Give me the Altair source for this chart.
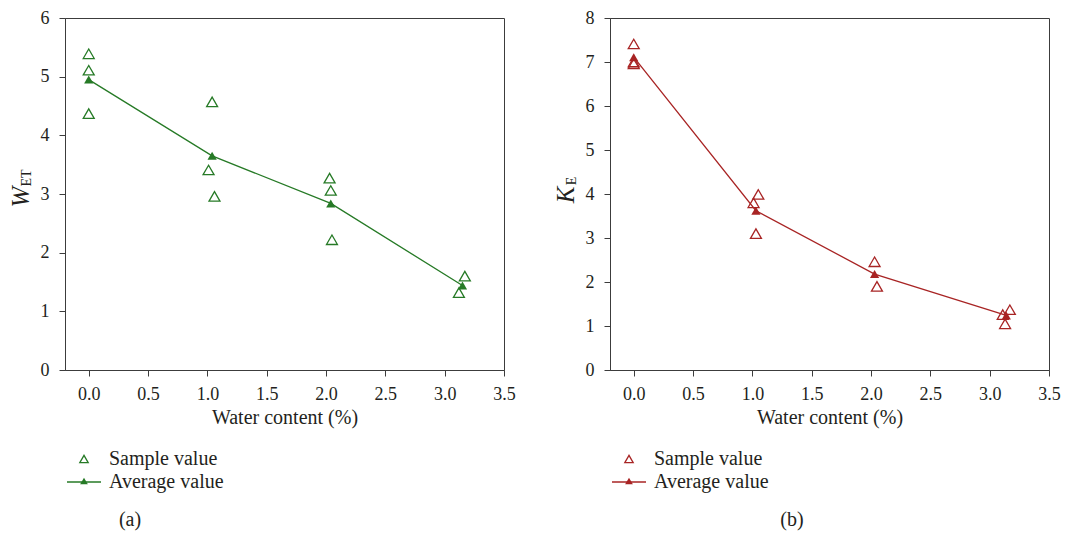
import altair as alt
import pandas as pd

# ---------------- data ----------------
# Panel (a): W_ET
a_sample_x = [0.0, 0.0, 0.0, 1.04, 1.01, 1.06, 2.03, 2.04, 2.05, 3.17, 3.12]
a_sample_y = [5.39, 5.11, 4.37, 4.57, 3.41, 2.96, 3.27, 3.06, 2.22, 1.60, 1.32]
a_avg_x = [0.0, 1.04, 2.04, 3.15]
a_avg_y = [4.95, 3.65, 2.84, 1.44]

# Panel (b): K_E
b_sample_x = [0.0, 0.0, 0.0, 1.05, 1.01, 1.03, 2.03, 2.05, 3.11, 3.17, 3.13]
b_sample_y = [7.41, 7.00, 6.96, 3.99, 3.80, 3.10, 2.46, 1.90, 1.26, 1.37, 1.05]
b_avg_x = [0.0, 1.03, 2.03, 3.14]
b_avg_y = [7.11, 3.62, 2.18, 1.24]

x_ticks = [i * 0.25 for i in range(15)]          # 0 .. 3.5
a_y_ticks = [i * 0.5 for i in range(13)]         # 0 .. 6
b_y_ticks = [i * 0.5 for i in range(17)]         # 0 .. 8

legend_labels = ["Sample value", "Average value"]
x_title = "Water content (%)"

GREEN = "#267a26"
RED = "#a82424"
AXIS = "#3c3c3c"
TEXT = "#231f20"
FONT = "Liberation Serif"
W, H = 439, 352


def panel(sx, sy, ax, ay, yticks, ymax, color, ysym, ysub, sym_y, sub_y, cap, cap_x):
    samples = pd.DataFrame({"x": sx, "y": sy})
    avgs = pd.DataFrame({"x": ax, "y": ay})

    xs = alt.Scale(domain=[-0.2, 3.5], nice=False, zero=False)
    ys = alt.Scale(domain=[0, ymax], nice=False)

    xaxis = alt.Axis(
        values=x_ticks, title=x_title, grid=False,
        labelExpr="datum.value % 0.5 === 0 ? format(datum.value, '.1f') : ''",
        tickSize={"condition": {"test": "datum.value % 0.5 === 0", "value": 6}, "value": 3},
        labelPadding=9, labelOverlap=False, labelFlush=False,
        titleY=47, titleBaseline="middle",
    )
    yaxis = alt.Axis(
        values=yticks, title=None, grid=False,
        labelExpr="datum.value % 1 === 0 ? format(datum.value, 'd') : ''",
        tickSize={"condition": {"test": "datum.value % 1 === 0", "value": 6}, "value": 3},
        labelPadding=10, labelOverlap=False, labelFlush=False,
    )

    base_x = alt.X("x:Q", scale=xs, axis=xaxis)
    base_y = alt.Y("y:Q", scale=ys, axis=yaxis)

    line = alt.Chart(avgs).mark_line(color=color, strokeWidth=1.3).encode(x=base_x, y=base_y)
    avg_pts = alt.Chart(avgs).mark_point(
        shape="triangle-up", filled=True, color=color, size=85, opacity=1
    ).encode(x="x:Q", y="y:Q")
    smp_pts = alt.Chart(samples).mark_point(
        shape="triangle-up", filled=False, color=color, size=120, strokeWidth=1.3, opacity=1
    ).encode(x="x:Q", y="y:Q")

    one = alt.Data(values=[{}])

    # y axis title with subscript
    ttl = alt.Chart(one).mark_text(
        text=ysym, font=FONT, fontStyle="italic", fontSize=25, angle=270,
        align="center", baseline="alphabetic", color=TEXT,
    ).encode(x=alt.value(-36), y=alt.value(sym_y))
    sub = alt.Chart(one).mark_text(
        text=ysub, font=FONT, fontSize=14, angle=270,
        align="center", baseline="alphabetic", color=TEXT,
    ).encode(x=alt.value(-34), y=alt.value(sub_y))

    # legend (drawn below the plot)
    leg_sym1 = alt.Chart(one).mark_point(
        shape="triangle-up", filled=False, color=color, size=70, strokeWidth=1.3, opacity=1
    ).encode(x=alt.value(19), y=alt.value(441))
    leg_line = alt.Chart(one).mark_rule(color=color, strokeWidth=1.3).encode(
        x=alt.value(2), x2=alt.value(36), y=alt.value(464)
    )
    leg_sym2 = alt.Chart(one).mark_point(
        shape="triangle-up", filled=True, color=color, size=60, opacity=1
    ).encode(x=alt.value(19), y=alt.value(463))
    leg_t1 = alt.Chart(one).mark_text(
        text=legend_labels[0], font=FONT, fontSize=20, align="left",
        baseline="alphabetic", color=TEXT,
    ).encode(x=alt.value(44), y=alt.value(447))
    leg_t2 = alt.Chart(one).mark_text(
        text=legend_labels[1], font=FONT, fontSize=20, align="left",
        baseline="alphabetic", color=TEXT,
    ).encode(x=alt.value(44), y=alt.value(470))
    caption = alt.Chart(one).mark_text(
        text=cap, font=FONT, fontSize=20, align="center",
        baseline="middle", color=TEXT,
    ).encode(x=alt.value(cap_x), y=alt.value(502))

    return alt.layer(
        line, avg_pts, smp_pts, ttl, sub,
        leg_sym1, leg_line, leg_sym2, leg_t1, leg_t2, caption,
    ).properties(width=W, height=H)


left = panel(a_sample_x, a_sample_y, a_avg_x, a_avg_y, a_y_ticks, 6, GREEN,
             "W", "ET", 179, 160, "(a)", 65)
right = panel(b_sample_x, b_sample_y, b_avg_x, b_avg_y, b_y_ticks, 8, RED,
              "K", "E", 177, 163, "(b)", 182)

chart = alt.hconcat(left, right, spacing=106, bounds="flush").properties(
    padding={"left": 0, "top": 0, "right": 0, "bottom": 0}
).configure_view(
    stroke=AXIS, strokeWidth=1
).configure_axis(
    domainColor=AXIS, tickColor=AXIS, labelColor=TEXT, titleColor=TEXT,
    labelFont=FONT, titleFont=FONT, labelFontSize=18, titleFontSize=20,
    titleFontWeight="normal", domainWidth=1, tickWidth=1,
).configure_text(font=FONT)

chart.save("out.html", embed_options={"renderer": "svg", "actions": False})
